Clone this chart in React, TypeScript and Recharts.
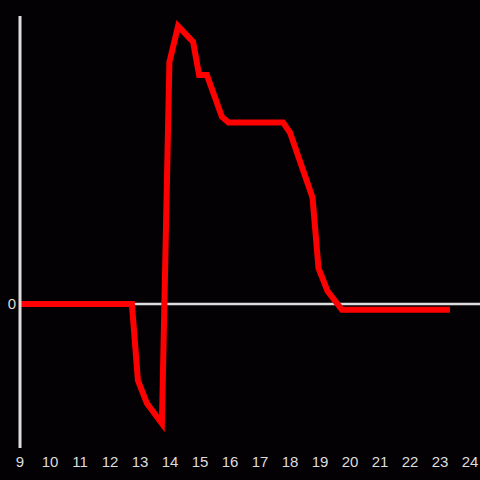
import { Line, LineChart, ReferenceLine, XAxis, YAxis } from "recharts";

const hours = [9, 12.73, 12.93, 13.23, 13.73, 13.98, 14.27, 14.77, 14.97, 15.23, 15.73, 15.95, 17.77, 18.0, 18.75, 18.95, 19.25, 19.73, 23.33];
const values = [0, 0, -0.53, -0.69, -0.83, 1.68, 1.93, 1.82, 1.59, 1.59, 1.3, 1.26, 1.26, 1.19, 0.74, 0.25, 0.09, -0.04, -0.04];
const xTicks = [9, 10, 11, 12, 13, 14, 15, 16, 17, 18, 19, 20, 21, 22, 23, 24];

const data = hours.map((t, i) => ({ t, v: values[i] }));

const font = "Liberation Sans, Arial, sans-serif";

export default function App() {
  return (
    <div style={{ position: "fixed", top: 0, left: 0, width: 480, height: 480, background: "#030104", fontFamily: font }}>
      <LineChart width={480} height={480} data={data} margin={{ top: 16, right: 0, left: 0, bottom: 0 }}>
        <XAxis
          dataKey="t"
          type="number"
          domain={[9, 24.333]}
          ticks={xTicks}
          allowDataOverflow
          axisLine={false}
          tickLine={false}
          height={32}
          fontSize={15}
          tick={{ fill: "#dddddd", fontSize: 15 }}
        />
        <YAxis
          type="number"
          domain={[-1, 2]}
          ticks={[0]}
          width={20}
          stroke="#dddddd"
          strokeWidth={3}
          axisLine={{ stroke: "#dddddd", strokeWidth: 3 }}
          tickLine={false}
          tickSize={2}
          tickMargin={2}
          fontSize={15}
          tick={{ fill: "#dddddd", fontSize: 15 }}
        />
        <ReferenceLine y={0} stroke="#dddddd" strokeWidth={2.5} />
        <Line type="linear" dataKey="v" stroke="#ff0000" strokeWidth={6} dot={false} isAnimationActive={false} />
      </LineChart>
    </div>
  );
}
